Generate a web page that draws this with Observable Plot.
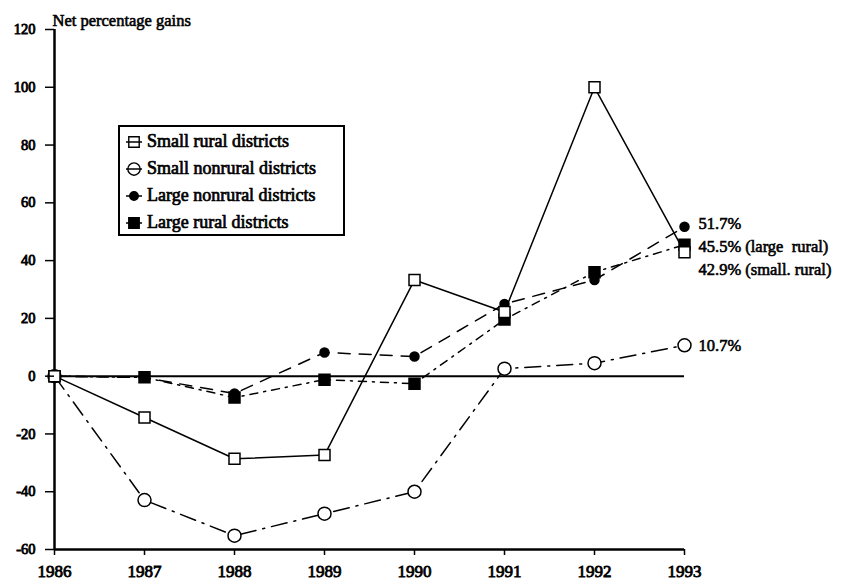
<!DOCTYPE html>
<html>
<head>
<meta charset="utf-8">
<script src="https://cdn.jsdelivr.net/npm/d3@7"></script>
<script src="https://cdn.jsdelivr.net/npm/@observablehq/plot@0.6"></script>
<style>
  body { margin: 0; background: #fff; }
  #wrap { position: relative; width: 855px; height: 583px; }
  #legend { position: absolute; left: 118px; top: 125px; width: 227px; height: 111px;
    border: 2px solid #000; box-sizing: border-box; font-family: "Liberation Serif", "Times New Roman", serif;
    font-size: 18px; color: #000; padding: 1px 0 0 5px; -webkit-text-stroke: 0.7px #000; }
  #legend .row { height: 27px; display: flex; align-items: center; white-space: nowrap; }
  #legend svg { margin-right: 4px; flex: none; }
  #wrap > svg text { font-family: "Liberation Serif", "Times New Roman", serif !important; paint-order: stroke; stroke: #000; stroke-width: 0.6px; }
  #wrap > svg [aria-label$="tick label"] text { stroke-width: 0.85px; }
</style>
</head>
<body>
<div id="wrap"><div id="legend"></div></div>
<script>
const years = [1986, 1987, 1988, 1989, 1990, 1991, 1992, 1993];
const seriesNames = ["Small rural districts", "Small nonrural districts", "Large nonrural districts", "Large rural districts"];
const smallRural    = [0, -14.3, -28.6, -27.3, 33.3, 22.2, 100.0, 42.9];
const smallNonrural = [0, -42.9, -55.2, -47.6, -40.0, 2.6, 4.5, 10.7];
const largeNonrural = [0, -0.5, -6.0, 8.2, 6.8, 25.0, 33.3, 51.7];
const largeRural    = [0, -0.4, -7.4, -1.2, -2.6, 19.6, 36.0, 45.5];
const yTicks = [-60, -40, -20, 0, 20, 40, 60, 80, 100, 120];
const endLabels = ["51.7%", "45.5% (large  rural)", "42.9% (small. rural)", "10.7%"];
const endValues = [51.7, 45.5, 42.9, 10.7];

const styles = [
  {symbol: "square", fill: "white", r: 6.2, dash: null},
  {symbol: "circle", fill: "white", r: 6.5, dash: "16,7,2,7"},
  {symbol: "circle", fill: "black", r: 4.5, dash: "12,9"},
  {symbol: "square", fill: "black", r: 6.2, dash: "8,6,2,6"}
];
const labelShift = [-3, 2, 17, 0];
const allSeries = [smallRural, smallNonrural, largeNonrural, largeRural];
const rows = [];
allSeries.forEach((vals, i) => years.forEach((yr, j) => rows.push({series: seriesNames[i], idx: i, year: yr, value: vals[j]})));

const serif = "Liberation Serif";
const marks = [
  Plot.ruleY([0], {stroke: "black", strokeWidth: 2}),
  Plot.ruleX([1986], {stroke: "black", strokeWidth: 2.5}),
  Plot.ruleY([-60], {stroke: "black", strokeWidth: 2.5}),
];
styles.forEach((s, i) => {
  marks.push(Plot.line(rows.filter(d => d.idx === i), {x: "year", y: "value", stroke: "black", strokeWidth: 1.5, strokeDasharray: s.dash}));
});
[2, 3, 1, 0].forEach(i => {
  const s = styles[i];
  marks.push(Plot.dot(rows.filter(d => d.idx === i), {x: "year", y: "value", symbol: s.symbol, r: s.r, fill: s.fill, stroke: "black", strokeWidth: 1.5}));
});
endLabels.forEach((t, i) => {
  marks.push(Plot.text([{text: t, value: endValues[i], year: years[years.length - 1]}],
    {x: "year", y: "value", text: "text", dx: 14, dy: labelShift[i], textAnchor: "start", fontSize: 16.5, fontFamily: serif, fill: "black"}));
});
marks.push(Plot.text(["Net percentage gains"], {frameAnchor: "top-left", dy: -15, dx: -2, textAnchor: "start", fontSize: 16.5, fontFamily: serif, fill: "black"}));
marks.push(Plot.axisY({ticks: yTicks, tickSize: 9, tickPadding: 10, tickFormat: d => String(d), fontSize: 14.5, fontFamily: serif, strokeWidth: 1.5, label: null}));
marks.push(Plot.axisX({ticks: years, tickSize: 6, tickPadding: 9, tickFormat: d => String(d), fontSize: 17, fontFamily: serif, strokeWidth: 1.5, label: null}));

const chart = Plot.plot({
  width: 855, height: 583,
  marginLeft: 54, marginRight: 171, marginTop: 29, marginBottom: 34,
  x: {domain: [1986, 1993]},
  y: {domain: [-60, 120]},
  style: {fontFamily: serif, color: "black", background: "white"},
  marks
});
document.getElementById("wrap").prepend(chart);

const legend = document.getElementById("legend");
seriesNames.forEach((name, i) => {
  const s = styles[i];
  const row = document.createElement("div");
  row.className = "row";
  const svg = d3.create("svg").attr("width", 18).attr("height", 16);
  svg.append("line").attr("x1", 1).attr("x2", 17).attr("y1", 8).attr("y2", 8).attr("stroke", "black").attr("stroke-width", 1.5);
  svg.append("path").attr("transform", "translate(9,8)")
    .attr("d", d3.symbol(s.symbol === "square" ? d3.symbolSquare : d3.symbolCircle, Math.PI * (s.r * 0.95) ** 2)())
    .attr("fill", s.fill === "white" ? "none" : "black").attr("stroke", "black").attr("stroke-width", 1.4);
  row.appendChild(svg.node());
  row.appendChild(document.createTextNode(name));
  legend.appendChild(row);
});
</script>
</body>
</html>
